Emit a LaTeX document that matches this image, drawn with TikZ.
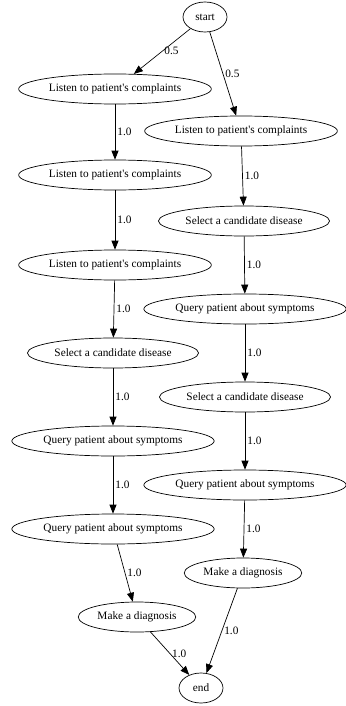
\documentclass[tikz,border=0pt]{standalone}
\usepackage{fontspec}
\setmainfont{Liberation Serif}
\usetikzlibrary{arrows.meta,shapes.geometric}

\tikzset{
  zustand/.style={draw, ellipse, line width=0.7pt, inner xsep=2pt, inner ysep=0pt,
    minimum height=30pt, minimum width=44pt, font=\fontsize{11.3}{13}\selectfont},
  kante/.style={line width=0.7pt, -{Triangle[length=9pt,width=7pt]}},
  gewicht/.style={anchor=west, inner sep=2pt, font=\fontsize{11.3}{13}\selectfont}
}

\begin{document}
\begin{tikzpicture}[x=1pt,y=-1pt]
   \useasboundingbox (0,0) rectangle (345,706);

   %% Knoten
   \node[zustand] (start) at (205,17) {start};

   \node[zustand] (l1) at (115,89)  {Listen to patient\textquotesingle s complaints};
   \node[zustand] (l2) at (115,175) {Listen to patient\textquotesingle s complaints};
   \node[zustand] (l3) at (115,265) {Listen to patient\textquotesingle s complaints};
   \node[zustand] (l4) at (113,353) {Select a candidate disease};
   \node[zustand] (l5) at (113,441) {Query patient about symptoms};
   \node[zustand] (l6) at (113,529) {Query patient about symptoms};
   \node[zustand] (l7) at (137,617) {Make a diagnosis};

   \node[zustand] (r1) at (241,131) {Listen to patient\textquotesingle s complaints};
   \node[zustand] (r2) at (244,221) {Select a candidate disease};
   \node[zustand] (r3) at (245,309) {Query patient about symptoms};
   \node[zustand] (r4) at (245,397) {Select a candidate disease};
   \node[zustand] (r5) at (245,485) {Query patient about symptoms};
   \node[zustand] (r6) at (243,573) {Make a diagnosis};

   \node[zustand] (end) at (201,688) {end};

   %% Kanten
   \draw[kante] (start) -- node[gewicht] {0.5} (l1);
   \draw[kante] (start) -- node[gewicht] {0.5} (r1);

   \draw[kante] (l1) -- node[gewicht] {1.0} (l2);
   \draw[kante] (l2) -- node[gewicht] {1.0} (l3);
   \draw[kante] (l3) -- node[gewicht] {1.0} (l4);
   \draw[kante] (l4) -- node[gewicht] {1.0} (l5);
   \draw[kante] (l5) -- node[gewicht] {1.0} (l6);
   \draw[kante] (l6) -- node[gewicht] {1.0} (l7);
   \draw[kante] (l7) -- node[gewicht] {1.0} (end);

   \draw[kante] (r1) -- node[gewicht] {1.0} (r2);
   \draw[kante] (r2) -- node[gewicht] {1.0} (r3);
   \draw[kante] (r3) -- node[gewicht] {1.0} (r4);
   \draw[kante] (r4) -- node[gewicht] {1.0} (r5);
   \draw[kante] (r5) -- node[gewicht] {1.0} (r6);
   \draw[kante] (r6) -- node[gewicht] {1.0} (end);
\end{tikzpicture}
\end{document}
